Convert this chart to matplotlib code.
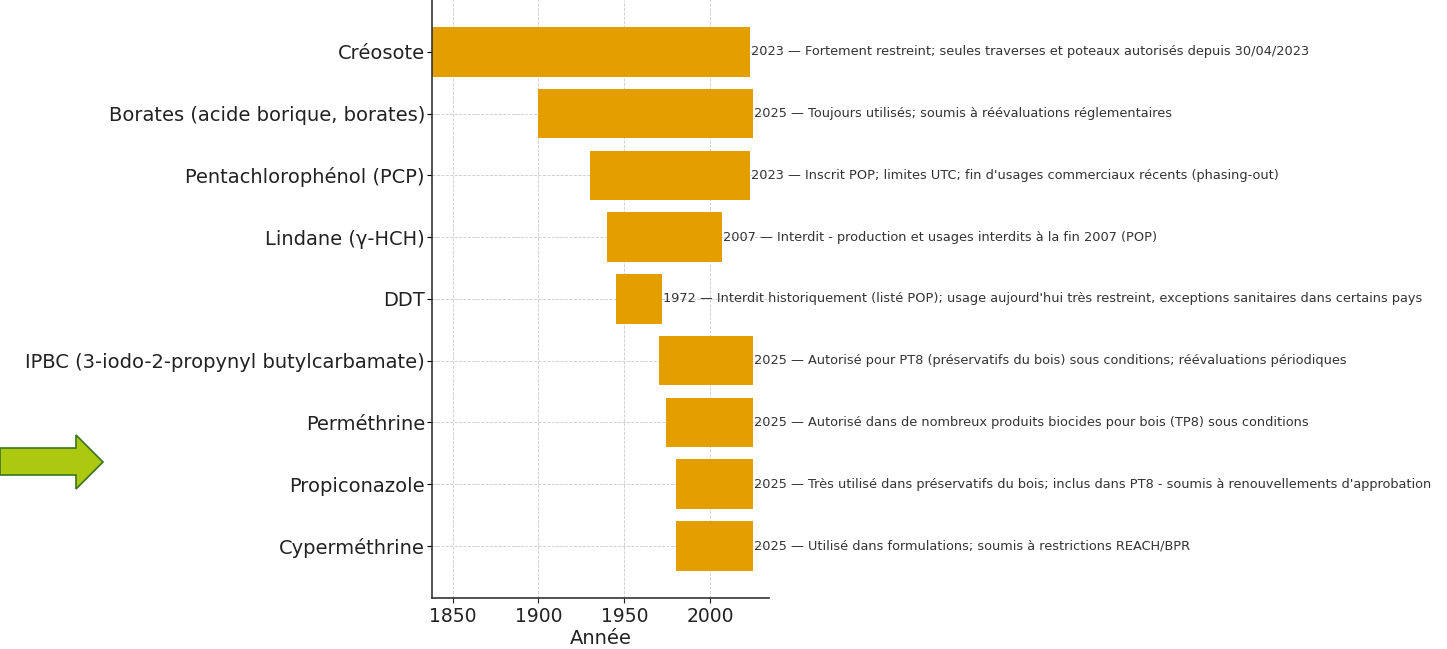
import matplotlib
matplotlib.use("Agg")
import matplotlib.pyplot as plt
from matplotlib.patches import Polygon

# substances, listed top to bottom
substances = [
    "Créosote",
    "Borates (acide borique, borates)",
    "Pentachlorophénol (PCP)",
    "Lindane (γ-HCH)",
    "DDT",
    "IPBC (3-iodo-2-propynyl butylcarbamate)",
    "Perméthrine",
    "Propiconazole",
    "Cyperméthrine",
]
start_years = [1838, 1900, 1930, 1940, 1945, 1970, 1974, 1980, 1980]
end_years = [2023, 2025, 2023, 2007, 1972, 2025, 2025, 2025, 2025]
statuses = [
    "Fortement restreint; seules traverses et poteaux autorisés depuis 30/04/2023",
    "Toujours utilisés; soumis à réévaluations réglementaires",
    "Inscrit POP; limites UTC; fin d'usages commerciaux récents (phasing-out)",
    "Interdit - production et usages interdits à la fin 2007 (POP)",
    "Interdit historiquement (listé POP); usage aujourd'hui très restreint, exceptions sanitaires dans certains pays",
    "Autorisé pour PT8 (préservatifs du bois) sous conditions; réévaluations périodiques",
    "Autorisé dans de nombreux produits biocides pour bois (TP8) sous conditions",
    "Très utilisé dans préservatifs du bois; inclus dans PT8 - soumis à renouvellements d'approbation",
    "Utilisé dans formulations; soumis à restrictions REACH/BPR",
]

BAR_COLOR = "#E39E00"

fig = plt.figure(figsize=(14.47, 6.49), dpi=100)
ax = fig.add_axes([0.2985, 0.079, 0.2332, 0.921])

ypos = list(range(len(substances)))
widths = [e - s for s, e in zip(start_years, end_years)]
ax.barh(ypos, widths, left=start_years, height=0.8, color=BAR_COLOR, zorder=2)

# status text right after each bar
for y, e, txt in zip(ypos, end_years, statuses):
    ax.text(e + 0.5, y, f"{e} — {txt}", va="center", ha="left",
            fontsize=9.3, color="#333333", clip_on=False, zorder=3)

ax.set_yticks(ypos)
ax.set_yticklabels(substances, fontsize=14, color="#222222")
ax.tick_params(axis="y", pad=1.5)
ax.invert_yaxis()
ax.set_xticks([1850, 1900, 1950, 2000])
ax.tick_params(axis="x", labelsize=13.5, colors="#222222")
ax.set_xlabel("Année", fontsize=14, color="#222222", labelpad=2)

ax.grid(True, linestyle="--", linewidth=0.6, color="#c4c4c4", alpha=0.9, zorder=0)
ax.set_axisbelow(True)
for side in ["top", "right"]:
    ax.spines[side].set_visible(False)
for side in ["left", "bottom"]:
    ax.spines[side].set_color("#333333")
    ax.spines[side].set_linewidth(1.2)

# green arrow decoration on the left
deco = fig.add_axes([0, 0, 1, 1], zorder=-1)
deco.set_xlim(0, 1447)
deco.set_ylim(649, 0)
deco.axis("off")
arrow_pts = [(0, 448), (76, 448), (76, 435), (103, 462), (76, 489), (76, 475), (0, 475)]
deco.add_patch(Polygon(arrow_pts, closed=True, facecolor="#ADC90F",
                       edgecolor="#3A7420", linewidth=1.2))

fig.savefig("out.png", dpi=100)
